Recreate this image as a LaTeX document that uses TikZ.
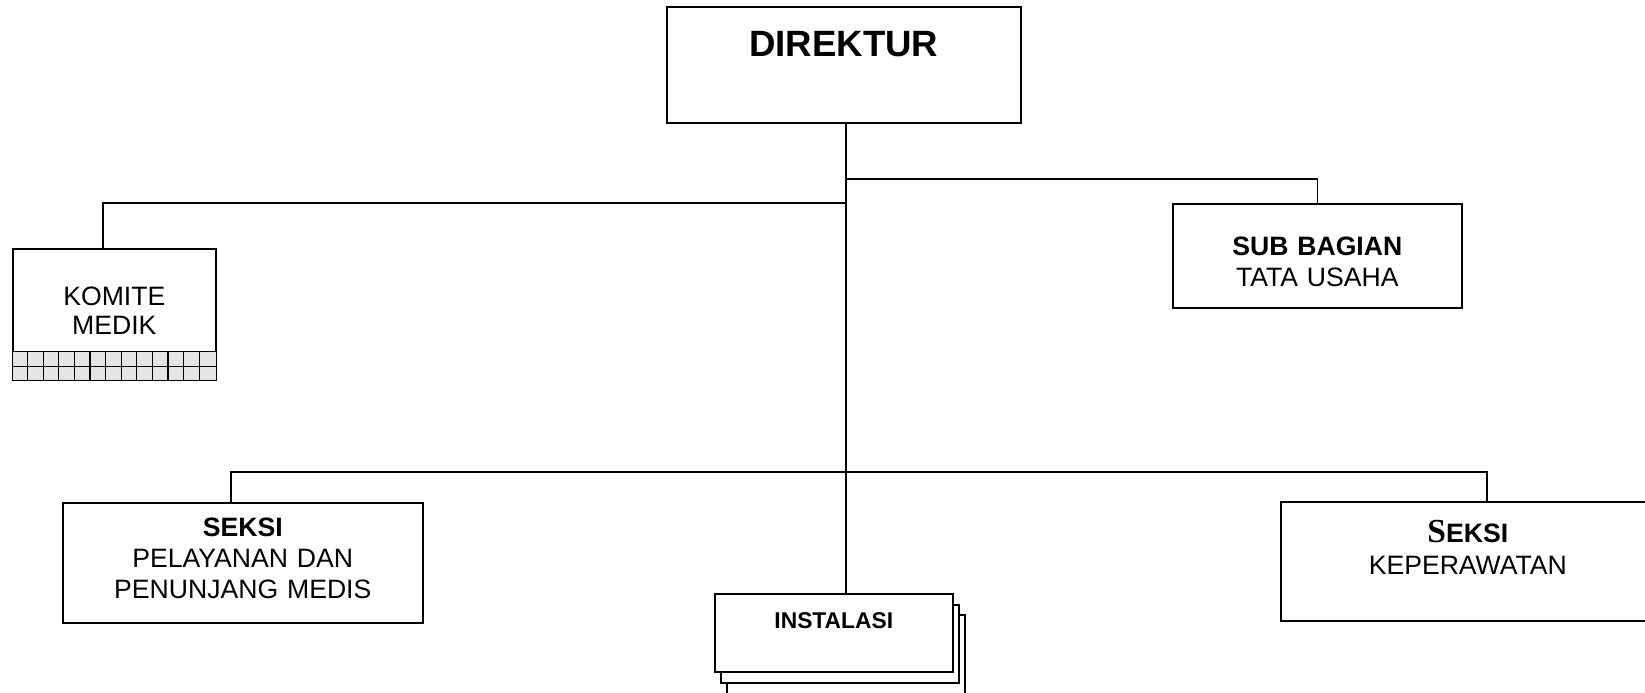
\documentclass[tikz,border=0pt]{standalone}
\usepackage{fontspec}
\setmainfont{Liberation Sans}
\newfontfamily\seriffont{Liberation Serif}
\tikzset{
  unit/.style={draw, line width=0.8pt, fill=white, inner sep=0pt, align=center,
    anchor=north west, font=\fontsize{13.3}{15.5}\selectfont},
  link/.style={line width=0.8pt},
}
\newcommand{\bigS}{{\seriffont\fontsize{16.8}{16.8}\selectfont S}}

\begin{document}
\begin{tikzpicture}[x=0.5pt, y=-0.5pt]
\useasboundingbox (0,0) rectangle (1645,692);
\clip (0,0) rectangle (1645,692);
% pimpinan
\node[unit, text width=177pt, text height=25pt, text depth=33pt,
  font=\fontsize{18.3}{20}\selectfont\bfseries] (direktur) at (666,6) {DIREKTUR};
% staf
\node[unit, text width=101.5pt, text height=28.5pt, text depth=37pt,
  font=\fontsize{13.3}{14.5}\selectfont] (komite) at (12,248) {KOMITE\\MEDIK};
\node[unit, text width=144.5pt, text height=26pt, text depth=26pt,
  font=\fontsize{13.3}{15.5}\selectfont] (subbag) at (1172,203) {\textbf{SUB BAGIAN}\\TATA USAHA};
% seksi
\node[unit, text width=180pt, text height=17pt, text depth=43pt] (pelayanan) at (62,502)
  {\textbf{SEKSI}\\PELAYANAN DAN\\PENUNJANG MEDIS};
\node[unit, text width=187pt, text height=20.5pt, text depth=39pt,
  font=\fontsize{13.3}{15.75}\selectfont] (keperawatan) at (1280,501) {\textbf{\bigS EKSI}\\KEPERAWATAN};
% instalasi (bertumpuk)
\node[unit, minimum width=119pt, minimum height=40pt] (inst3) at (726,614) {};
\node[unit, minimum width=119pt, minimum height=39pt] (inst2) at (720,604) {};
\node[unit, text width=119pt, text height=17.5pt, text depth=21.5pt,
  font=\fontsize{11.4}{12}\selectfont\bfseries] (instalasi) at (714,593) {INSTALASI};

% kisi komite medik
\fill[black!10] ([xshift=0.4pt,yshift=0.4pt]komite.south west) rectangle ([xshift=-0.4pt,yshift=14.5pt]komite.south east);
\draw[link] ([yshift=14.5pt]komite.south west) -- ([yshift=14.5pt]komite.south east);
\draw[line width=0.6pt] ([yshift=7pt]komite.south west) -- ([yshift=7pt]komite.south east);
\foreach \i in {1,...,12}
  \draw[line width=0.6pt] ([xshift=\i*7.8pt]komite.south west) -- ++(0,-29);

% garis
\coordinate (jsub) at (845,179);
\coordinate (jkom) at (845,203);
\coordinate (jbot) at (845,472);
\draw[link] ([xshift=1pt]direktur.south) -- ([xshift=1pt]direktur.south |- instalasi.north);
\draw[link] (jsub) -| (subbag);
\draw[link] (jkom) -| ([xshift=-5.75pt]komite.north);
\draw[link] ([xshift=-6pt]pelayanan.north) |- (jbot) -| ([xshift=9.5pt]keperawatan.north);
\end{tikzpicture}
\end{document}
